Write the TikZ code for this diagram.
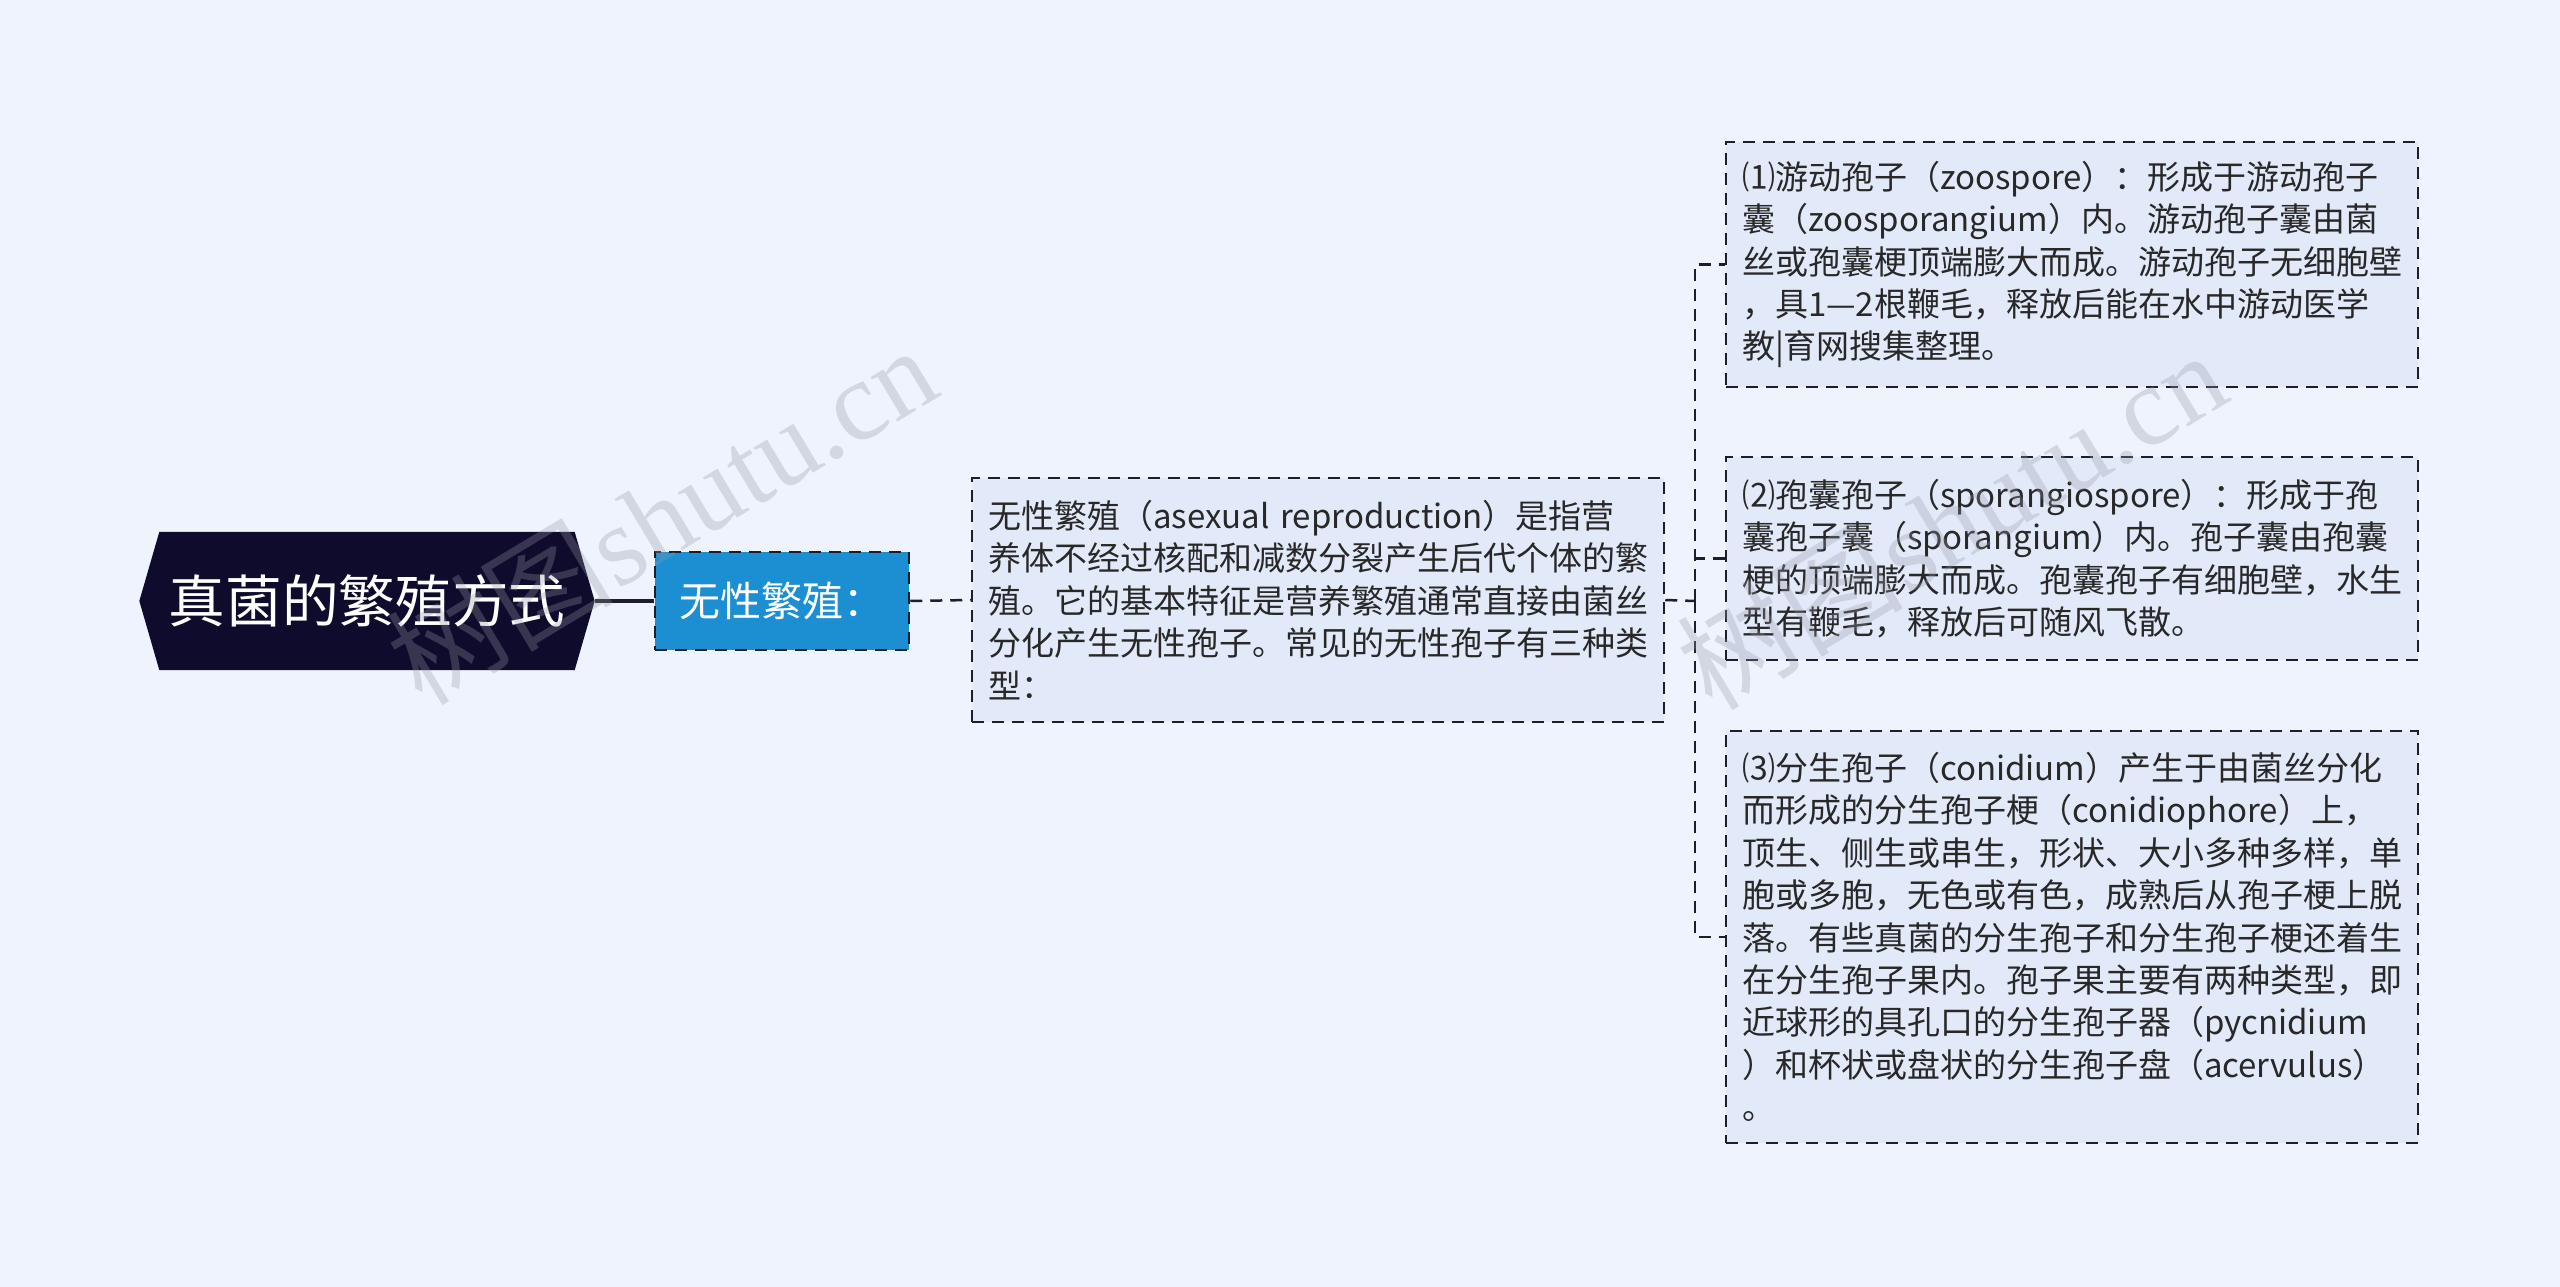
\documentclass[tikz,border=0pt]{standalone}
\usepackage{fontspec}
\setmainfont{Noto Sans CJK SC}
\newfontfamily\wmlatin{Liberation Serif}
\usetikzlibrary{calc,backgrounds}
\definecolor{bg}{RGB}{238,243,253}
\definecolor{boxfill}{RGB}{226,234,250}
\definecolor{rootfill}{RGB}{14,11,44}
\definecolor{bluefill}{RGB}{27,143,210}
\definecolor{txt}{RGB}{40,40,40}
\definecolor{edge}{RGB}{30,30,40}
\definecolor{wm}{RGB}{150,152,165}
\begin{document}
\begin{tikzpicture}[x=0.3pt,y=-0.3pt,
  dashln/.style={draw=edge, line width=0.75pt, dash pattern=on 3.6pt off 2.4pt},
  conn/.style={dashln},
  textbox/.style={dashln, fill=boxfill, text=txt, font=\fontsize{9.9}{12.72}\selectfont,
    align=left, text width=198pt, inner xsep=4.8pt, inner ysep=0pt},
  rootnode/.style={minimum width=136.2pt, minimum height=41.1pt, inner sep=0pt,
    text=white, font=\fontsize{17}{20}\selectfont},
  subnode/.style={dashln, fill=bluefill, text=white, font=\fontsize{12.3}{14}\selectfont,
    minimum width=76.2pt, minimum height=29.4pt, inner sep=0pt},
  watermark/.style={rotate=31, text=wm, text opacity=0.3, font=\fontsize{34}{40}\selectfont}
]
\useasboundingbox (0,0) rectangle (2560,1287);

\node[rootnode] (root) at (367,601) {真菌的繁殖方式};
\node[subnode] (sub) at (782,601) {无性繁殖：};

\node[textbox, minimum height=73.2pt] (big) at (1318,600) {无性繁殖（asexual reproduction）是指营\\
养体不经过核配和减数分裂产生后代个体的繁\\
殖。它的基本特征是营养繁殖通常直接由菌丝\\
分化产生无性孢子。常见的无性孢子有三种类\\
型：};

\node[textbox, minimum height=73.5pt] (c1) at (2072,264.5) {⑴游动孢子（zoospore）：形成于游动孢子\\
囊（zoosporangium）内。游动孢子囊由菌\\
丝或孢囊梗顶端膨大而成。游动孢子无细胞壁\\
，具1—2根鞭毛，释放后能在水中游动医学\\
教|育网搜集整理。};

\node[textbox, minimum height=60.9pt] (c2) at (2072,558.5) {⑵孢囊孢子（sporangiospore）：形成于孢\\
囊孢子囊（sporangium）内。孢子囊由孢囊\\
梗的顶端膨大而成。孢囊孢子有细胞壁，水生\\
型有鞭毛，释放后可随风飞散。};

\node[textbox, minimum height=123.6pt] (c3) at (2072,937) {⑶分生孢子（conidium）产生于由菌丝分化\\
而形成的分生孢子梗（conidiophore）上，\\
顶生、侧生或串生，形状、大小多种多样，单\\
胞或多胞，无色或有色，成熟后从孢子梗上脱\\
落。有些真菌的分生孢子和分生孢子梗还着生\\
在分生孢子果内。孢子果主要有两种类型，即\\
近球形的具孔口的分生孢子器（pycnidium\\
）和杯状或盘状的分生孢子盘（acervulus）\\
。};

\begin{pgfonlayer}{background}
  \fill[bg] (0,0) rectangle (2560,1287);
  \fill[rootfill] (root.west) -- ($(root.north west)+(20,0)$) -- ($(root.north east)+(-20,0)$)
    -- (root.east) -- ($(root.south east)+(-20,0)$) -- ($(root.south west)+(20,0)$) -- cycle;
\end{pgfonlayer}

\coordinate (jn) at (1695,601);
\draw[edge, line width=1pt] (root.east) -- (sub.west);
\draw[conn] (sub.east) -- (big.west);
\draw[conn] (big.east) -- (jn);
\draw[conn] (jn) |- (c1.west);
\draw[conn] (jn) |- (c2.west);
\draw[conn] (jn) |- (c3.west);

% watermarks (on top, faint)
\node[watermark] (wm1) at (661,514) {树图{\wmlatin shutu.cn}};
\node[watermark] (wm2) at (1951,519) {树图{\wmlatin shutu.cn}};
\end{tikzpicture}
\end{document}
